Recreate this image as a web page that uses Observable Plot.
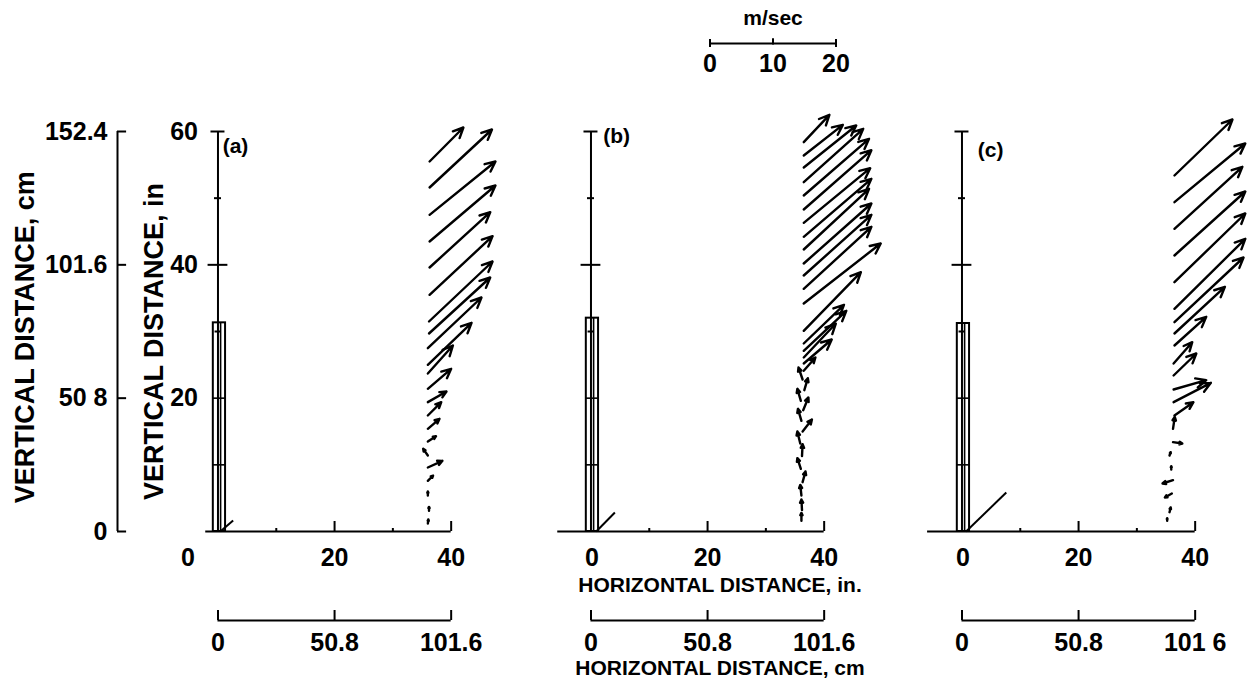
<!DOCTYPE html>
<html><head><meta charset="utf-8">
<script src="https://cdn.jsdelivr.net/npm/d3@7"></script>
<script src="https://cdn.jsdelivr.net/npm/@observablehq/plot@0.6"></script>
<style>
body{margin:0;background:#fff;}
#root{position:relative;width:1247px;height:685px;overflow:hidden;background:#fff;font-family:"Liberation Sans",Arial,sans-serif;font-weight:bold;}
#root svg{position:absolute;}
.lbl{position:absolute;white-space:nowrap;transform:translate(-50%,-50%);font-size:21px;line-height:21px;font-weight:bold;color:#000;}
</style></head><body><div id="root"></div>
<script>
// ---------- data ----------
const panels = ["a", "b", "c"];
const panelLabels = ["(a)", "(b)", "(c)"];
const inchTicks = [0, 20, 40];
const inchMinor = [10, 30];
const cmTicks = [0, 50.8, 101.6];
const cmTickLabels = {a: ["0", "50.8", "101.6"], b: ["0", "50.8", "101.6"], c: ["0", "50.8", "101 6"]};
const vertCmTicks = [0, 50.8, 101.6, 152.4];
const vertCmLabels = ["0", "50 8", "101.6", "152.4"];
const vertInTicks = [20, 40, 60];
const speedTicks = [0, 10, 20];
const towerTop = {a: 31.3, b: 32.0, c: 31.2};
const baseStart = {a: -2.1, b: -5.7, c: -5.9};
// small diagonal segment at the mast base [x1, y1, x2, y2] (in.)
const baseSegment = {a: [0.4, 0, 2.6, 1.65], b: [0.9, 0, 4.1, 2.85], c: [0.7, 0, 7.6, 5.85]};
// velocity vectors: [tailX, tailY, headX, headY] in inches
const vectorsA = [
  [36.3,55.5,42.1,60.6],[36.3,51.6,47.0,60.3],[36.3,47.5,47.6,55.5],[36.3,43.5,47.6,51.9],
  [36.3,39.6,46.7,47.9],[36.3,35.5,47.1,44.3],[36.2,31.5,47.1,40.5],[36.2,29.7,46.7,38.1],
  [36.0,27.5,45.2,35.1],[36.0,25.0,43.5,31.3],[36.0,23.7,40.3,27.9],[36.0,21.4,40.0,24.4],
  [36.0,19.4,39.2,21.0],[36.0,17.4,38.3,19.4],[36.0,15.4,38.0,16.9],[36.0,13.5,37.4,14.3],
  [36.0,11.4,35.2,12.4],[36.0,9.6,38.5,10.6],[36.0,7.6,36.9,8.4],[36.0,5.4,36.0,6.0],
  [36.2,3.1,36.2,3.7],[36.0,1.2,36.1,1.8]
];
const vectorsB = [
  [36.5,58.4,40.9,62.5],[36.5,56.4,43.2,61.0],[36.5,54.6,45.5,60.9],[36.5,52.4,46.7,60.4],
  [36.5,50.4,47.7,58.9],[36.5,48.3,48.1,57.2],[36.5,46.3,47.9,54.5],[36.5,44.2,48.1,52.9],
  [36.5,42.3,47.7,51.4],[36.5,40.2,48.1,49.2],[36.5,38.4,48.1,47.5],[36.5,36.4,48.1,45.7],
  [36.5,34.2,49.7,43.2],[36.5,30.1,46.3,38.9],[36.5,28.2,43.4,34.0],[36.5,27.1,43.8,33.1],
  [36.5,26.1,42.0,31.2],[36.5,25.2,41.3,28.8],[36.5,24.1,38.5,26.1],
  [36.3,22.8,35.6,24.6],[36.6,21.2,37.2,23.0],[36.0,19.6,35.4,21.4],[36.4,18.2,37.3,20.1],
  [36.1,16.6,35.5,18.4],[36.3,15.0,37.9,16.8],[35.9,13.2,35.4,15.0],[36.2,11.3,36.3,13.1],
  [36.0,9.4,35.4,11.0],[36.3,7.4,36.8,9.0],[36.1,5.4,35.9,7.0],[36.2,3.2,36.1,4.8],
  [36.1,1.6,36.1,2.8]
];
const vectorsC = [
  [36.45,53.4,46.4,61.8],[36.45,49.4,48.6,58.2],[36.45,45.4,48.1,54.7],[36.45,41.4,48.6,51.0],
  [36.45,37.4,48.6,47.7],[36.45,33.4,48.6,43.9],[36.45,31.4,48.3,41.1],[36.45,29.7,45.1,36.7],
  [36.45,27.9,41.9,32.2],[36.3,25.2,39.5,28.4],[36.3,23.4,40.2,26.7],[36.3,21.3,41.9,22.7],
  [36.3,19.4,42.7,22.3],[36.45,17.4,39.7,19.4],[36.2,15.4,36.5,17.2],[36.2,13.4,37.8,13.2],
  [35.6,11.4,35.8,11.9],[35.9,9.3,35.9,9.8],[36.2,7.7,34.4,7.2],[36.0,5.7,34.8,5.1],
  [35.6,2.9,35.8,3.6],[35.2,1.6,35.2,2.0]
];
const vectors = {a: vectorsA, b: vectorsB, c: vectorsC};

// ---------- layout ----------
const root = document.getElementById("root");
const FONT = "'Liberation Sans', Arial, sans-serif";
const baseStyle = {fontFamily: FONT, fontWeight: "bold", background: "transparent", overflow: "visible", color: "black"};
function place(svg, left, top) {
  svg.style.left = left + "px";
  svg.style.top = top + "px";
  root.appendChild(svg);
}
const PW = 373, ML = 52.5, MR = 5.7;          // x: [-6, 48] in.
const panelLeft = {a: 130, b: 503, c: 873.5};
const labelPos = {a: [0.8, 57.8], b: [2.1, 59.3], c: [2.7, 57.2]};
const mastTicks = [{y: 60, h: 1.2}, {y: 50, h: 0.6}, {y: 40, h: 1.7}, {y: 30, h: 0.5}];
const TICK_FS = 25;

// vertical cm axis
place(Plot.plot({
  width: 130, height: 460, marginLeft: 117, marginRight: 0, marginTop: 31, marginBottom: 29,
  style: baseStyle,
  x: {domain: [0, 1], axis: null},
  y: {domain: [0, 152.4], axis: null},
  marks: [
    Plot.ruleX([0], {y1: 0, y2: 152.4, strokeWidth: 2}),
    Plot.ruleY(vertCmTicks, {x1: 0, x2: 0.7, strokeWidth: 2}),
    Plot.text(vertCmTicks, {x: 0, y: d => d, dx: -10, textAnchor: "end", fontSize: TICK_FS, fontWeight: "bold",
      text: (d, i) => vertCmLabels[i]}),
    Plot.text(["VERTICAL DISTANCE, cm"], {frameAnchor: "left", textAnchor: "middle", y: [74], dx: -92, rotate: -90, fontSize: 27, fontWeight: "bold"})
  ]
}), 0, 100);

// panels
panels.forEach((k, i) => {
  const seg = baseSegment[k];
  const top = towerTop[k];
  const marks = [
    // horizontal (in.) axis along the floor
    Plot.ruleY([0], {x1: baseStart[k], x2: 40, strokeWidth: 2.2}),
    Plot.ruleX(inchTicks.filter(d => d > 0), {y1: 0, y2: 1.5, strokeWidth: 2}),
    Plot.ruleX(inchMinor, {y1: 0, y2: 0.45, strokeWidth: 2}),
    Plot.text(inchTicks.filter(d => d > 0), {x: d => d, y: 0, dy: 26, text: d => String(d), fontSize: TICK_FS, fontWeight: "bold"}),
    Plot.text([0], {x: d => d, y: 0, dy: 26, dx: k === "a" ? -30 : 1, text: d => String(d), fontSize: TICK_FS, fontWeight: "bold"}),
    // mast
    Plot.ruleX([0], {y1: 0, y2: 60, strokeWidth: 2}),
    Plot.ruleY(mastTicks, {y: "y", x1: d => -d.h, x2: d => d.h, strokeWidth: 2}),
    // tower
    Plot.rect([top], {x1: -0.8, x2: 1.3, y1: 0, y2: d => d, fill: "none", stroke: "black", strokeWidth: 2}),
    Plot.ruleX([0.45], {y1: 0, y2: top, strokeWidth: 1.6}),
    Plot.ruleY([10, 20], {x1: -0.8, x2: 1.3, strokeWidth: 1.6}),
    // base segment
    Plot.link([seg], {x1: d => d[0], y1: d => d[1], x2: d => d[2], y2: d => d[3], strokeWidth: 2}),
    // velocity vectors
    Plot.arrow(vectors[k], {x1: d => d[0], y1: d => d[1], x2: d => d[2], y2: d => d[3],
      strokeWidth: 2.4, headLength: 7, headAngle: 50, strokeLinecap: "round"}),
    // panel label
    Plot.text([panelLabels[i]], {x: [labelPos[k][0]], y: [labelPos[k][1]], textAnchor: "start", fontSize: 21, fontWeight: "bold"})
  ];
  if (k === "a") {
    marks.push(Plot.text(vertInTicks, {x: 0, y: d => d, dx: -20, textAnchor: "end", fontSize: TICK_FS, fontWeight: "bold", text: d => String(d)}));
    marks.push(Plot.text(["VERTICAL DISTANCE, in"], {frameAnchor: "left", textAnchor: "middle", y: [28.5], dx: -28.5, rotate: -90, fontSize: 27, fontWeight: "bold"}));
  }
  place(Plot.plot({
    width: PW, height: 480, marginLeft: ML, marginRight: MR, marginTop: 31, marginBottom: 49,
    style: baseStyle,
    x: {domain: [-6, 48], axis: null},
    y: {domain: [0, 60], axis: null},
    marks
  }), panelLeft[k], 100);

  // cm axis under each panel
  place(Plot.plot({
    width: PW, height: 60, marginLeft: ML, marginRight: MR, marginTop: 10, marginBottom: 30,
    style: baseStyle,
    x: {domain: [-6 * 2.54, 48 * 2.54], axis: null},
    y: {domain: [-1, 1], axis: null},
    marks: [
      Plot.ruleY([0], {x1: 0, x2: 101.6, strokeWidth: 2.2}),
      Plot.ruleX(cmTicks, {y1: 0, y2: 1, strokeWidth: 2}),
      Plot.text(cmTicks, {x: d => d, y: 0, dy: 22, text: (d, j) => cmTickLabels[k][j], fontSize: TICK_FS, fontWeight: "bold"})
    ]
  }), panelLeft[k], 600);
});

// speed scale bar
place(Plot.plot({
  width: 230, height: 80, marginLeft: 49.5, marginRight: 54.5, marginTop: 35, marginBottom: 29,
  style: baseStyle,
  x: {domain: [0, 20], axis: null},
  y: {domain: [-1, 1], axis: null},
  marks: [
    Plot.ruleY([0], {x1: 0, x2: 20, strokeWidth: 2}),
    Plot.ruleX([0, 20], {y1: -0.5, y2: 0.5, strokeWidth: 2}),
    Plot.ruleX([10], {y1: -0.2, y2: 0.6, strokeWidth: 2}),
    Plot.text(speedTicks, {x: d => d, y: 0, dy: 20, text: d => String(d), fontSize: TICK_FS, fontWeight: "bold"}),
    Plot.text(["m/sec"], {x: [10], y: [0], dy: -25, fontSize: 21, fontWeight: "bold"})
  ]
}), 660, 0);

// axis titles
function label(text, x, y) {
  const d = document.createElement("div");
  d.className = "lbl"; d.textContent = text;
  d.style.left = x + "px"; d.style.top = y + "px";
  root.appendChild(d);
}
label("HORIZONTAL DISTANCE, in.", 720, 584);
label("HORIZONTAL DISTANCE, cm", 720, 667);
</script>
</body></html>
